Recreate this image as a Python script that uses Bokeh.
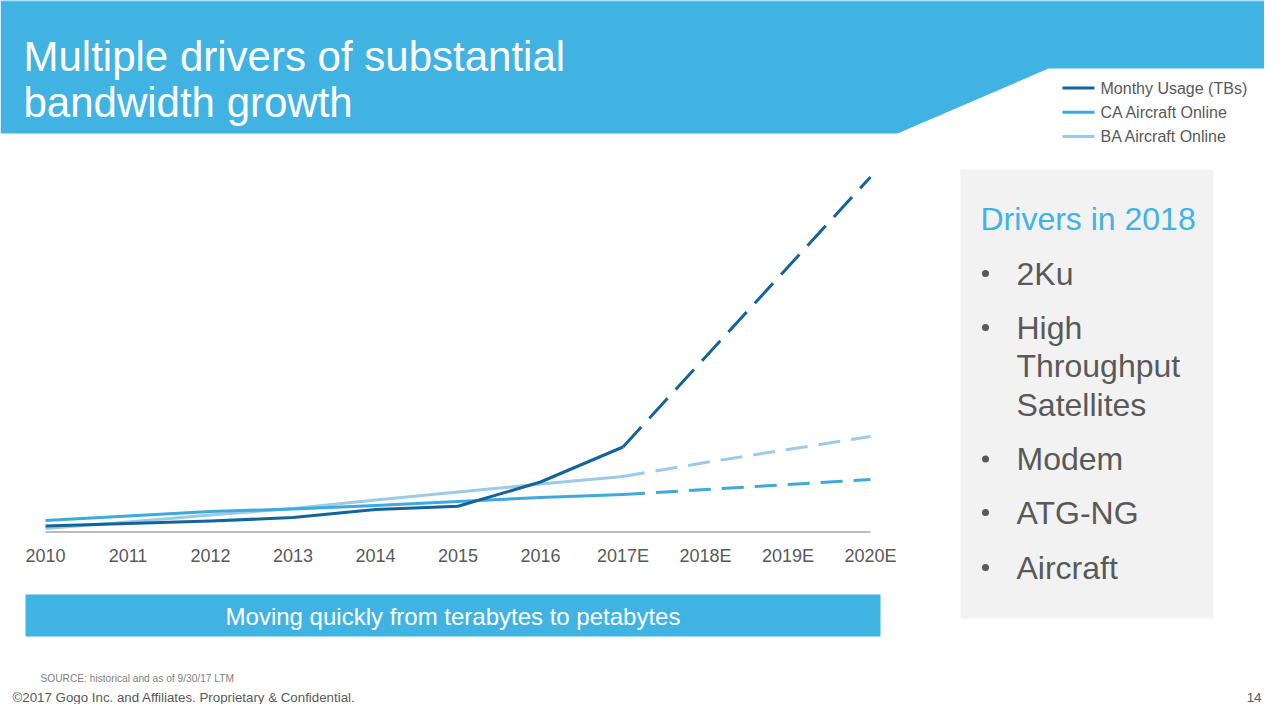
from bokeh.plotting import figure
from bokeh.models import Range1d
from bokeh.core.properties import value
from bokeh.embed import file_html
from bokeh.resources import INLINE

# ---------------- data ----------------
categories = ["2010", "2011", "2012", "2013", "2014", "2015", "2016",
              "2017E", "2018E", "2019E", "2020E"]
monthly_usage = [6, 8.4, 11, 14.4, 22.4, 25.7, 50, 85, 175, 265, 355]
ca_aircraft = [11.5, 16, 20.5, 23, 26.5, 30.5, 34.5, 37.5, 42.5, 47.5, 52.5]
ba_aircraft = [3.5, 10, 17, 23.5, 32, 40, 48, 55.5, 69.5, 82.5, 95.5]
series_names = ["Monthy Usage (TBs)", "CA Aircraft Online", "BA Aircraft Online"]
series_colors = ["#13649B", "#3DA9DC", "#9DCAE6"]
series_dash = ["27 12", "22 11", "22 11"]
last_actual = categories.index("2017E")

title_lines = ["Multiple drivers of substantial", "bandwidth growth"]
drivers_title = "Drivers in 2018"
drivers = ["2Ku", "High\nThroughput\nSatellites", "Modem", "ATG-NG", "Aircraft"]
banner_text = "Moving quickly from terabytes to petabytes"
source_text = "SOURCE: historical and as of 9/30/17 LTM"
copyright_text = "\u00a92017 Gogo Inc. and Affiliates. Proprietary & Confidential."
page_no = "14"

FONT = value("Liberation Sans")
BLUE = "#41B3E3"
GREY_TXT = "#595959"

# ---------------- figure ----------------
X0, STEP, BASE = 45.0, 82.5, 531.5
W, H = 1264, 704
p = figure(width=W, height=H, output_backend="svg", toolbar_location=None,
           x_range=Range1d((0 - X0) / STEP, (W - X0) / STEP),
           y_range=Range1d(BASE - H, BASE),
           min_border=0, x_axis_type=None, y_axis_type=None)
p.outline_line_color = None
p.grid.visible = False
p.background_fill_color = "white"
p.border_fill_color = "white"
p.extra_x_ranges = {"px": Range1d(0, W)}
p.extra_y_ranges = {"px": Range1d(H, 0)}
PX = dict(x_range_name="px", y_range_name="px")

# header banner
p.patch([0, 1280, 1280, 1048, 897, 0], [0, 0, 68, 68, 133, 133],
        fill_color=BLUE, line_color=None, **PX)
p.quad(left=[0], right=[1280], top=[0], bottom=[1.5],
       fill_color="#55C2F0", line_color=None, **PX)
p.text(x=[23, 23], y=[55.5, 102], text=title_lines, text_color="white",
       text_font=FONT, text_font_size="42px", text_baseline="middle", **PX)

# legend (manual)
leg_y = [87.5, 111.8, 136]
p.segment(x0=[1062] * 3, y0=leg_y, x1=[1094] * 3, y1=leg_y,
          line_color=series_colors, line_width=3, **PX)
p.text(x=[1100] * 3, y=leg_y, text=series_names, text_color=GREY_TXT,
       text_font=FONT, text_font_size="16px", text_baseline="middle", **PX)

# drivers panel
p.quad(left=[960], right=[1213], top=[169], bottom=[618],
       fill_color="#F2F2F2", line_color=None, **PX)
p.text(x=[980], y=[218], text=[drivers_title], text_color=BLUE,
       text_font=FONT, text_font_size="32px", text_baseline="middle", **PX)
item_y = [273, 327, 458.5, 512, 567]
line_gap = 38.5
lx, ly, lt = [], [], []
for d, y0 in zip(drivers, item_y):
    for k, part in enumerate(d.split("\n")):
        lx.append(1016)
        ly.append(y0 + k * line_gap)
        lt.append(part)
p.text(x=lx, y=ly, text=lt, text_color=GREY_TXT, text_font=FONT,
       text_font_size="32px", text_baseline="middle", **PX)
p.scatter(x=[985] * len(drivers), y=item_y, size=7,
          marker="circle", fill_color=GREY_TXT, line_color=None, **PX)

# bottom banner
p.quad(left=[25], right=[880], top=[594], bottom=[636],
       fill_color=BLUE, line_color=None, **PX)
p.text(x=[452.5], y=[616], text=[banner_text], text_color="white",
       text_font=FONT, text_font_size="24px", text_align="center",
       text_baseline="middle", **PX)

p.text(x=[40], y=[677.5], text=[source_text], text_color="#7F7F7F",
       text_font=FONT, text_font_size="10.2px", text_baseline="middle", **PX)
p.text(x=[12], y=[697], text=[copyright_text], text_color=GREY_TXT,
       text_font=FONT, text_font_size="13.3px", text_baseline="middle", **PX)
p.text(x=[1261], y=[697], text=[page_no], text_color=GREY_TXT,
       text_font=FONT, text_font_size="13.3px", text_align="right",
       text_baseline="middle", **PX)

# ---------------- chart ----------------
idx = list(range(len(categories)))
p.segment(x0=[0], y0=[0], x1=[len(categories) - 1], y1=[0],
          line_color="#A6A6A6", line_width=1.5)
p.text(x=idx, y=[555] * len(idx), text=categories, text_color=GREY_TXT,
       text_font=FONT, text_font_size="18px", text_align="center",
       text_baseline="middle", y_range_name="px")

series = [monthly_usage, ca_aircraft, ba_aircraft]
for i in [2, 1, 0]:
    vals, col = series[i], series_colors[i]
    p.line(idx[:last_actual + 1], vals[:last_actual + 1], line_color=col,
           line_width=3, line_join="round")
    p.line(idx[last_actual:], vals[last_actual:], line_color=col,
           line_width=3, line_dash=series_dash[i])

open("out.html", "w").write(file_html(p, INLINE))
